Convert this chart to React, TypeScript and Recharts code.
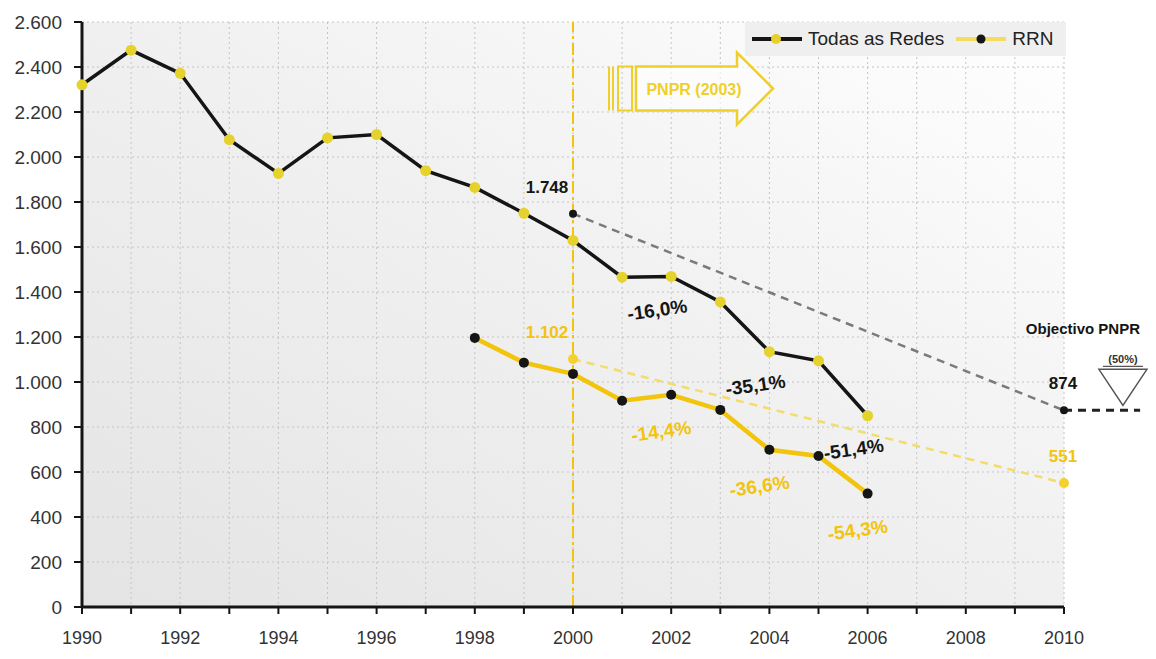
import { LineChart, Line, XAxis, YAxis, CartesianGrid, ReferenceLine, ReferenceDot, LabelList } from "recharts";

// Vítimas mortais - todas as redes (1990-2006)
const years = [1990, 1991, 1992, 1993, 1994, 1995, 1996, 1997, 1998, 1999, 2000, 2001, 2002, 2003, 2004, 2005, 2006];
const todasAsRedes = [2321, 2475, 2372, 2077, 1927, 2085, 2100, 1939, 1865, 1750, 1629, 1466, 1469, 1356, 1135, 1094, 850];

// Rede Rodoviária Nacional (1998-2006)
const rrnYears = [1998, 1999, 2000, 2001, 2002, 2003, 2004, 2005, 2006];
const rrnValues = [1196, 1086, 1036, 917, 943, 876, 699, 671, 504];

// Objectivo PNPR: base (média 1998-2000) e meta 2010 (-50%)
const metaYears = [2000, 2010];
const metaTodas = [1748, 874];
const metaRrn = [1102, 551];

const pctYears = [2002, 2004, 2006];
const xTicks = [1990, 1991, 1992, 1993, 1994, 1995, 1996, 1997, 1998, 1999, 2000, 2001, 2002, 2003, 2004, 2005, 2006, 2007, 2008, 2009, 2010];
const yTicks = [0, 200, 400, 600, 800, 1000, 1200, 1400, 1600, 1800, 2000, 2200, 2400, 2600];

const FONT = '"Liberation Sans", Arial, sans-serif';
const BLACK = "#151515";
const YELLOW = "#f2c40c";

const allYears = Array.from(new Set([...years, ...rrnYears, ...metaYears])).sort((a, b) => a - b);
const rows = allYears.map((year) => {
  const i = years.indexOf(year);
  const j = rrnYears.indexOf(year);
  const k = metaYears.indexOf(year);
  return {
    year,
    todas: i >= 0 ? todasAsRedes[i] : null,
    rrn: j >= 0 ? rrnValues[j] : null,
    metaTodas: k >= 0 ? metaTodas[k] : null,
    metaRrn: k >= 0 ? metaRrn[k] : null,
  };
});

const fmtThousands = (v: number) => String(v).replace(/\B(?=(\d{3})+(?!\d))/g, ".");
const fmtPct = (v: number, base: number) => ((v / base - 1) * 100).toFixed(1).replace(".", ",") + "%";

// number above the start/end points of the target lines
const metaLabel = (color: string) => (props: any) => {
  const { x, y, value, index } = props;
  if (value == null) return null;
  const dx = rows[index].year === 2000 ? -26 : -1;
  return (
    <text x={x + dx} y={y - 21} textAnchor="middle" fill={color} fontFamily={FONT} fontWeight="bold" fontSize={17}>
      {fmtThousands(value)}
    </text>
  );
};

// percentage change vs. the 1998-2000 base, every two years
const pctLabel = (color: string, base: number, dx: number, dy: number) => (props: any) => {
  const { x, y, value, index } = props;
  if (value == null || !pctYears.includes(rows[index].year)) return null;
  const cx = x + dx;
  const cy = y + dy;
  return (
    <text x={cx} y={cy + 7} textAnchor="middle" fill={color} fontFamily={FONT} fontWeight="bold" fontSize={19} transform={`rotate(-8 ${cx} ${cy})`}>
      {fmtPct(value, base)}
    </text>
  );
};

const PnprArrow = (props: any) => {
  const { cx, cy } = props;
  const c = "#f0cf2a";
  return (
    <g transform={`translate(${cx},${cy})`}>
      <line x1={36} y1={-23} x2={36} y2={21} stroke={c} strokeWidth={2} />
      <line x1={40} y1={-23} x2={40} y2={21} stroke={c} strokeWidth={2} />
      <rect x={45} y={-23} width={14} height={44} fill="none" stroke={c} strokeWidth={2} />
      <path d="M63,-23 L164,-23 L164,-37 L200,-1 L164,35 L164,21 L63,21 Z" fill="rgba(255,255,255,0.6)" stroke={c} strokeWidth={2.5} />
      <text x={121} y={5} textAnchor="middle" fill={c} fontFamily={FONT} fontWeight="bold" fontSize={16}>
        PNPR (2003)
      </text>
    </g>
  );
};

const ObjectivoMarker = (props: any) => {
  const { cx, cy } = props;
  return (
    <g>
      <text x={cx - 40} y={cy - 76} textAnchor="middle" fill={BLACK} fontFamily={FONT} fontWeight="bold" fontSize={15}>
        Objectivo PNPR
      </text>
      <text x={cx} y={cy - 47} textAnchor="middle" fill="#333" fontFamily={FONT} fontWeight="bold" fontSize={11}>
        (50%)
      </text>
      <line x1={cx - 20} y1={cy - 44} x2={cx + 20} y2={cy - 44} stroke="#555" strokeWidth={1.2} />
      <polygon points={`${cx - 24},${cy - 41} ${cx + 24},${cy - 41} ${cx},${cy - 5}`} fill="#ffffff" stroke="#555" strokeWidth={1.5} />
    </g>
  );
};

const ChartLegend = () => (
  <div style={{ position: "absolute", top: 22, left: 745, width: 321, display: "flex", alignItems: "center", height: 34, background: "#efefef", fontFamily: FONT, fontSize: 19, color: "#222", paddingLeft: 7, boxSizing: "border-box" }}>
    <svg width={52} height={14}>
      <line x1={0} y1={7} x2={50} y2={7} stroke={BLACK} strokeWidth={4} />
      <circle cx={24} cy={7} r={5} fill="#e8d02a" />
    </svg>
    <span style={{ marginLeft: 4 }}>Todas as Redes</span>
    <svg width={52} height={14} style={{ marginLeft: 12 }}>
      <line x1={0} y1={7} x2={50} y2={7} stroke="#f3dc60" strokeWidth={4} />
      <circle cx={25} cy={7} r={4.5} fill={BLACK} />
    </svg>
    <span style={{ marginLeft: 4 }}>RRN</span>
  </div>
);

export default function App() {
  return (
    <div style={{ position: "absolute", left: 0, top: 0, width: 1156, height: 659, background: "#fff" }}>
      <svg width={0} height={0} style={{ position: "absolute" }}>
        <defs>
          <linearGradient id="plotBg" x1="0" y1="1" x2="1" y2="0">
            <stop offset="0%" stopColor="#e4e4e4" />
            <stop offset="55%" stopColor="#f1f1f1" />
            <stop offset="100%" stopColor="#ffffff" />
          </linearGradient>
        </defs>
      </svg>
      <LineChart width={1156} height={659} data={rows} margin={{ top: 22, right: 92, bottom: 12, left: 22 }}>
        <CartesianGrid stroke="#c4c4c4" strokeDasharray="2 3" fill="url(#plotBg)" fillOpacity={1} />
        <XAxis
          dataKey="year"
          type="number"
          domain={[1990, 2010]}
          ticks={xTicks}
          interval={0}
          height={40}
          tickFormatter={(v: number) => (v % 2 === 0 ? String(v) : "")}
          axisLine={{ stroke: BLACK, strokeWidth: 3 }}
          tickLine={{ stroke: BLACK, strokeWidth: 2 }}
          tickSize={7}
          tickMargin={17}
          tick={{ fill: "#333", fontSize: 18, fontFamily: FONT }}
        />
        <YAxis
          type="number"
          domain={[0, 2600]}
          ticks={yTicks}
          interval={0}
          width={60}
          tickFormatter={fmtThousands}
          axisLine={{ stroke: BLACK, strokeWidth: 3 }}
          tickLine={{ stroke: BLACK, strokeWidth: 2 }}
          tickSize={8}
          tickMargin={12}
          tick={{ fill: "#333", fontSize: 19, fontFamily: FONT }}
        />
        <ReferenceLine x={2000} stroke={YELLOW} strokeWidth={2} strokeDasharray="12 4 3 4" />
        <ReferenceDot x={2000} y={2300} r={0} shape={PnprArrow} ifOverflow="visible" />
        <ReferenceLine segment={[{ x: 2010, y: 874 }, { x: 2011.55, y: 874 }]} stroke="#222" strokeWidth={3} strokeDasharray="8 6" ifOverflow="visible" />
        <ReferenceDot x={2011.2} y={874} r={0} shape={ObjectivoMarker} ifOverflow="visible" />
        <Line dataKey="metaTodas" stroke="#7a7a7a" strokeWidth={2.5} strokeDasharray="8 6" connectNulls dot={{ r: 4, fill: BLACK, stroke: "none" }} legendType="none" isAnimationActive={false}>
          <LabelList dataKey="metaTodas" content={metaLabel(BLACK)} />
        </Line>
        <Line dataKey="metaRrn" stroke="#f3dc6a" strokeWidth={2.5} strokeDasharray="8 6" connectNulls dot={{ r: 5, fill: "#f4d030", stroke: "none" }} legendType="none" isAnimationActive={false}>
          <LabelList dataKey="metaRrn" content={metaLabel(YELLOW)} />
        </Line>
        <Line dataKey="rrn" name="RRN" stroke={YELLOW} strokeWidth={4.5} dot={{ r: 5, fill: BLACK, stroke: "none" }} isAnimationActive={false}>
          <LabelList dataKey="rrn" content={pctLabel(YELLOW, metaRrn[0], -10, 36)} />
        </Line>
        <Line dataKey="todas" name="Todas as Redes" stroke={BLACK} strokeWidth={3.5} dot={{ r: 5.5, fill: "#e6d22c", stroke: "none" }} isAnimationActive={false}>
          <LabelList dataKey="todas" content={pctLabel(BLACK, metaTodas[0], -14, 33)} />
        </Line>
      </LineChart>
      <ChartLegend />
    </div>
  );
}
